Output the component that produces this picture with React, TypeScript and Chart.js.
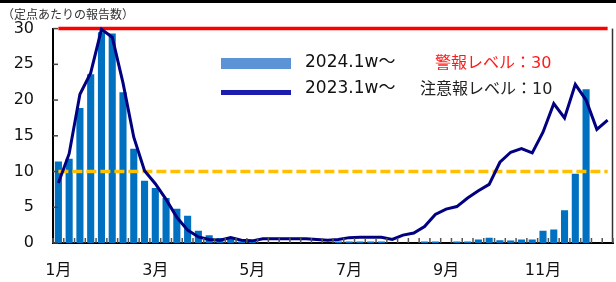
import React, { useEffect, useRef } from 'react';
import { Chart, registerables } from 'chart.js';

Chart.register(...registerables);

// ---- data ----
const WEEKS: string[] = Array.from({ length: 52 }, (_, i) => `${i + 1}w`);

const SERIES_2024: (number | null)[] = [
  11.4, 11.8, 18.9, 23.6, 29.5, 29.3, 21.1, 13.2, 8.7, 7.7, 6.3, 4.8, 3.8,
  1.7, 1.1, 0.7, 0.8, 0.2, 0.3,
  0, 0, 0, 0, 0, 0, 0,
  0.2, 0.2, 0.2, 0.2, 0.2,
  0, 0, 0,
  0.2, 0.2, 0, 0.2, 0.2,
  0.5, 0.75, 0.4, 0.35, 0.5, 0.5, 1.7, 1.9, 4.6, 9.7, 21.5,
  null, null,
];

const SERIES_2023: number[] = [
  8.4, 12.5, 20.8, 23.8, 29.9, 28.8, 22.4, 14.8, 10.1, 8.3, 6.1, 3.6, 1.8,
  0.85, 0.5, 0.4, 0.75, 0.4, 0.3,
  0.6, 0.6, 0.6, 0.6, 0.6, 0.5, 0.4, 0.5, 0.75, 0.8, 0.8, 0.8,
  0.5, 1.1, 1.4, 2.3, 4.0, 4.75, 5.1, 6.3, 7.3, 8.2, 11.3, 12.7, 13.2, 12.6,
  15.5, 19.5, 17.5, 22.2, 20.0, 15.9, 17.2,
];

const ALERT_LEVEL = 30;
const WARNING_LEVEL = 10;

const MONTH_TICK_INDEX = [0, 9, 18, 27, 36, 45];
const MONTH_TICK_TEXT = ['1月', '3月', '5月', '7月', '9月', '11月'];

const Y_TICKS = [0, 5, 10, 15, 20, 25, 30];

const UNIT_LABEL = '（定点あたりの報告数）';
const LEGEND_2024 = '2024.1w〜';
const LEGEND_2023 = '2023.1w〜';
const ALERT_TEXT = '警報レベル：30';
const WARNING_TEXT = '注意報レベル：10';

const FONT = '"DejaVu Sans", "Noto Sans CJK JP", sans-serif';
const JP_FONT = '"Noto Sans CJK JP", sans-serif';

const decorPlugin = {
  id: 'decor',
  afterDraw(chart: any) {
    const { ctx, chartArea: a, scales } = chart;
    const xs = scales.x;
    const ys = scales.y;
    ctx.save();
    // top frame line
    ctx.fillStyle = '#000';
    ctx.fillRect(0, 0, chart.width, 3);
    // right border of plot
    ctx.strokeStyle = '#333';
    ctx.lineWidth = 1.5;
    ctx.beginPath();
    ctx.moveTo(a.right - 0.5, a.top);
    ctx.lineTo(a.right - 0.5, a.bottom);
    ctx.stroke();
    // inward tick marks on x (between categories)
    const n = WEEKS.length;
    const w = (a.right - a.left) / n;
    ctx.strokeStyle = '#555';
    ctx.lineWidth = 1.5;
    for (let i = 0; i <= n; i++) {
      const X = xs.getPixelForValue(Math.min(i, n - 1)) + (i === n ? w / 2 : -w / 2);
      ctx.beginPath();
      ctx.moveTo(X, a.bottom);
      ctx.lineTo(X, a.bottom - 5);
      ctx.stroke();
    }
    // inward tick marks on y
    ctx.strokeStyle = '#444';
    for (const v of Y_TICKS) {
      const Y = ys.getPixelForValue(v);
      ctx.beginPath();
      ctx.moveTo(a.left, Y);
      ctx.lineTo(a.left + 5, Y);
      ctx.stroke();
    }
    // unit label
    ctx.textBaseline = 'middle';
    ctx.textAlign = 'left';
    ctx.fillStyle = '#333';
    ctx.font = `12px ${JP_FONT}`;
    ctx.fillText(UNIT_LABEL, 2, 14);
    // legend
    ctx.fillStyle = '#5B93D6';
    ctx.fillRect(221, 58, 70, 11);
    ctx.fillStyle = '#1C1CAE';
    ctx.fillRect(221, 90, 70, 5);
    ctx.fillStyle = '#111';
    ctx.font = `17px ${FONT}`;
    ctx.fillText(LEGEND_2024, 305, 63);
    ctx.fillText(LEGEND_2023, 305, 89);
    ctx.font = `16px ${FONT}`;
    ctx.fillStyle = '#FF1A1A';
    ctx.fillText(ALERT_TEXT, 435, 64);
    ctx.fillStyle = '#222';
    ctx.fillText(WARNING_TEXT, 420, 90);
    ctx.restore();
  },
};

export default function App() {
  const ref = useRef<HTMLCanvasElement | null>(null);

  useEffect(() => {
    if (!ref.current) return;
    Chart.defaults.font.family = FONT;
    const chart = new Chart(ref.current, {
      type: 'bar',
      data: {
        labels: WEEKS,
        datasets: [
          {
            type: 'line',
            label: LEGEND_2023,
            data: SERIES_2023,
            borderColor: '#000080',
            borderWidth: 3,
            pointRadius: 0,
            tension: 0,
            fill: false,
            order: 0,
            clip: false,
          } as any,
          {
            type: 'line',
            label: ALERT_TEXT,
            data: WEEKS.map(() => ALERT_LEVEL),
            borderColor: '#FF0000',
            borderWidth: 3.5,
            pointRadius: 0,
            fill: false,
            order: 1,
            clip: false,
          } as any,
          {
            type: 'line',
            label: WARNING_TEXT,
            data: WEEKS.map(() => WARNING_LEVEL),
            borderColor: '#FFC000',
            borderWidth: 3.5,
            borderDash: [10, 4],
            pointRadius: 0,
            fill: false,
            order: 2,
            clip: false,
          } as any,
          {
            type: 'bar',
            label: LEGEND_2024,
            data: SERIES_2024,
            backgroundColor: '#0070C0',
            barPercentage: 0.66,
            categoryPercentage: 1,
            order: 3,
          } as any,
        ],
      },
      options: {
        responsive: false,
        devicePixelRatio: 1,
        animation: false,
        layout: { padding: { top: 28, right: 3, left: 0, bottom: 0 } },
        plugins: {
          legend: { display: false },
          tooltip: { enabled: false },
          title: { display: false },
        },
        scales: {
          x: {
            offset: true,
            grid: { display: false, drawTicks: false, offset: true },
            border: { display: true, color: '#000', width: 2 },
            ticks: {
              autoSkip: false,
              maxRotation: 0,
              padding: 18,
              color: '#111',
              font: { size: 16, family: FONT },
              callback: (_v: any, i: number) => {
                const k = MONTH_TICK_INDEX.indexOf(i);
                return k >= 0 ? MONTH_TICK_TEXT[k] : '';
              },
            },
            afterFit: (s: any) => {
              s.height = 39;
              s.paddingLeft = 0;
              s.paddingRight = 0;
            },
          },
          y: {
            min: 0,
            max: 30,
            grid: { display: false, drawTicks: false },
            border: { display: true, color: '#000', width: 2 },
            ticks: {
              stepSize: 5,
              padding: 19,
              color: '#111',
              font: { size: 16, family: FONT },
            },
            afterFit: (s: any) => {
              s.width = 53;
            },
          },
        },
      },
      plugins: [decorPlugin],
    });
    return () => chart.destroy();
  }, []);

  return (
    <canvas
      ref={ref}
      width={616}
      height={282}
      style={{ position: 'fixed', left: 0, top: 0, width: 616, height: 282 }}
    />
  );
}
